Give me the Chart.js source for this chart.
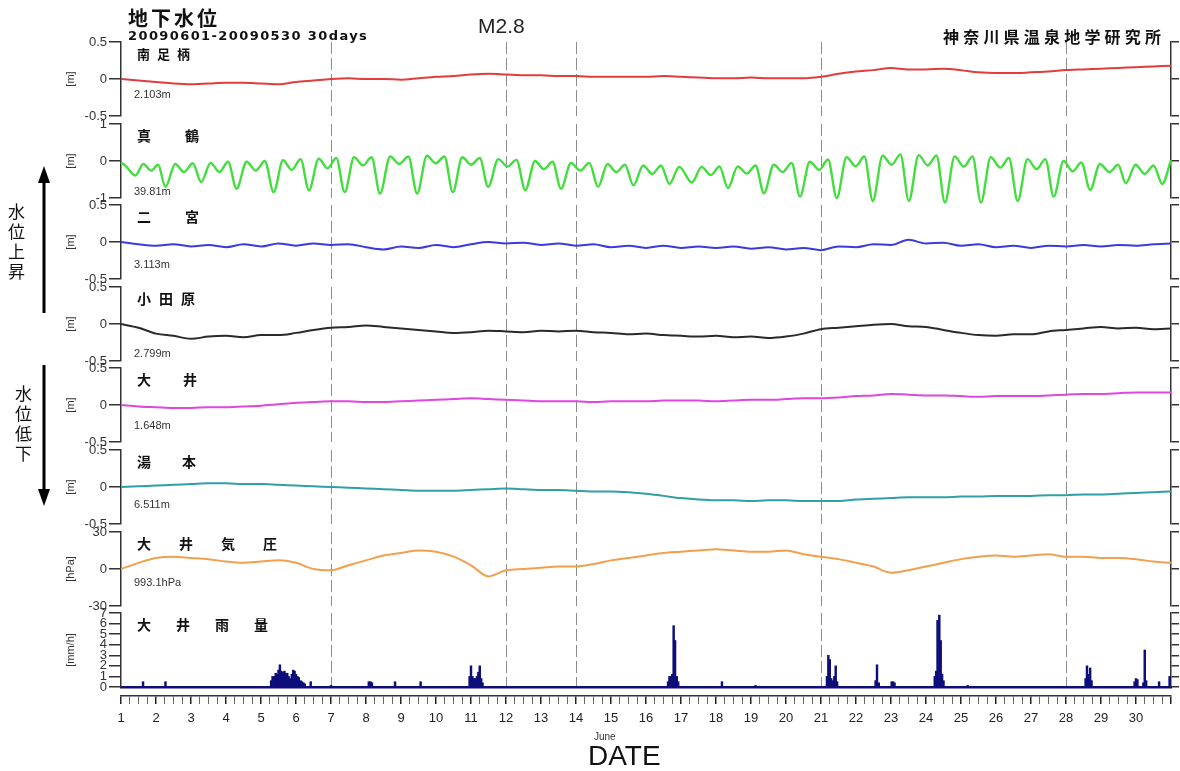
<!DOCTYPE html>
<html lang="ja">
<head>
<meta charset="utf-8">
<title>地下水位 20090601-20090530</title>
<script src="https://cdn.jsdelivr.net/npm/chart.js@4.4.1/dist/chart.umd.min.js"></script>
<style>
  html, body { margin: 0; padding: 0; background: #fff; }
  #wrap { position: relative; width: 1180px; height: 771px; overflow: hidden; font-family: 'Liberation Sans', Arial, sans-serif; }
  #wrap canvas { position: absolute; left: 0; }
  .txt { position: absolute; white-space: nowrap; line-height: 1; color: #111; z-index: 5; }
  .jp { font-family: 'Noto Sans CJK JP', sans-serif; font-weight: 700; }
  .base { font-size: 11px; color: #333; }
  .vert { writing-mode: vertical-rl; font-family: 'Noto Sans CJK JP', sans-serif; font-size: 17px; letter-spacing: 3px; }
  #arrows { position: absolute; left: 0; top: 0; z-index: 4; }
</style>
</head>
<body>
<div id="wrap">
  <div class="txt jp" style="left:128px; top:8px; font-size:20px; letter-spacing:3px;">地下水位</div>
  <div class="txt" style="left:128px; top:29px; font-size:13px; font-weight:700; font-family:'DejaVu Sans', sans-serif; letter-spacing:1.4px;">20090601-20090530 30days</div>
  <div class="txt" style="left:478px; top:15px; font-size:21px; color:#222;">M2.8</div>
  <div class="txt jp" style="left:943px; top:28px; font-size:16px; letter-spacing:4.2px;">神奈川県温泉地学研究所</div>
  <div class="txt vert" style="left:8px; top:203px;">水位上昇</div>
  <div class="txt vert" style="left:15px; top:385px;">水位低下</div>
  <div class="txt" style="left:594px; top:732px; font-size:10px; color:#333;">June</div>
  <div class="txt" style="left:588px; top:742px; font-size:28px; color:#111;">DATE</div>
  <svg id="arrows" width="60" height="771">
    <line x1="44" y1="313" x2="44" y2="180" stroke="#000" stroke-width="3"/>
    <polygon points="44,166 38,183 50,183" fill="#000"/>
    <line x1="44" y1="365" x2="44" y2="492" stroke="#000" stroke-width="3"/>
    <polygon points="44,506 38,489 50,489" fill="#000"/>
  </svg>
</div>
<script>
/* ── Data (June 2009) ── */

// days with the dashed reference lines
const EVENT_DAYS = [7, 12, 14, 21, 28];
// bottom axis labels
const DAY_LABELS = [1, 2, 3, 4, 5, 6, 7, 8, 9, 10, 11, 12, 13, 14, 15,
                    16, 17, 18, 19, 20, 21, 22, 23, 24, 25, 26, 27, 28, 29, 30];
// half-day sample times shared by the smooth series
const HALF_DAYS = Array.from({ length: 61 }, (_, i) => 1 + i * 0.5);

// 南足柄 [m] (base 2.103m)
const minamiashigara = [
  0.00, -0.02, -0.04, -0.06, -0.07, -0.06, -0.05, -0.05, -0.06, -0.07,
  -0.04, -0.02, 0.00, 0.01, 0.00, 0.00, -0.01, 0.01, 0.03, 0.04,
  0.06, 0.07, 0.06, 0.05, 0.05, 0.04, 0.04, 0.03, 0.03, 0.03,
  0.03, 0.04, 0.03, 0.02, 0.01, 0.01, 0.02, 0.01, 0.01, 0.01,
  0.03, 0.07, 0.10, 0.12, 0.15, 0.13, 0.13, 0.14, 0.12, 0.09,
  0.08, 0.08, 0.09, 0.10, 0.12, 0.13, 0.14, 0.15, 0.16, 0.17,
  0.18
];

// 真鶴 [m] (base 39.81m) — tidal, [day, value] at the turning points
const manazuru = [
  [1.00, -0.05], [1.12, -0.12],
  [1.41, -0.39], [1.64, -0.08], [1.86, -0.26], [2.06, -0.10],
  [2.27, -0.70], [2.55, -0.08], [2.80, -0.30], [3.05, -0.06],
  [3.29, -0.57], [3.56, -0.05], [3.81, -0.30], [4.06, -0.02],
  [4.30, -0.75], [4.59, -0.02], [4.85, -0.26], [5.11, 0.00],
  [5.36, -0.84], [5.63, 0.02], [5.88, -0.24], [6.13, 0.05],
  [6.37, -0.79], [6.65, 0.06], [6.90, -0.20], [7.15, 0.08],
  [7.39, -0.84], [7.66, 0.10], [7.91, -0.12], [8.16, 0.10],
  [8.40, -0.88], [8.69, 0.12], [8.95, -0.08], [9.21, 0.12],
  [9.46, -0.88], [9.74, 0.14], [9.99, -0.06], [10.24, 0.12],
  [10.48, -0.84], [10.75, 0.10], [11.00, -0.10], [11.25, 0.08],
  [11.49, -0.70], [11.78, 0.05], [12.04, -0.15], [12.30, 0.03],
  [12.55, -0.79], [12.83, 0.00], [13.08, -0.22], [13.33, -0.02],
  [13.57, -0.75], [13.86, -0.05], [14.12, -0.26], [14.38, -0.05],
  [14.63, -0.70], [14.90, -0.08], [15.15, -0.30], [15.40, -0.10],
  [15.64, -0.66], [15.92, -0.12], [16.18, -0.35], [16.43, -0.12],
  [16.67, -0.62], [16.95, -0.16],
  [17.31, -0.58], [17.59, -0.16], [17.85, -0.38], [18.10, -0.15],
  [18.34, -0.73], [18.62, -0.15], [18.88, -0.34], [19.13, -0.12],
  [19.37, -0.87], [19.65, -0.10], [19.91, -0.30], [20.16, -0.05],
  [20.40, -0.96], [20.68, -0.02], [20.95, -0.24], [21.20, 0.04],
  [21.45, -1.00], [21.73, 0.10], [21.99, -0.14], [22.24, 0.12],
  [22.48, -1.08], [22.76, 0.14], [23.02, -0.10], [23.27, 0.18],
  [23.51, -1.08], [23.79, 0.16], [24.05, -0.12], [24.30, 0.15],
  [24.54, -1.12], [24.82, 0.12], [25.08, -0.15], [25.33, 0.12],
  [25.57, -1.12], [25.85, 0.10], [26.12, -0.18], [26.37, 0.08],
  [26.62, -1.08], [26.90, 0.05], [27.16, -0.22], [27.41, 0.05],
  [27.65, -0.96], [27.93, 0.00], [28.19, -0.28], [28.44, -0.04],
  [28.69, -0.78], [28.97, -0.08], [29.24, -0.30], [29.49, -0.10],
  [29.71, -0.60], [29.99, -0.10], [30.25, -0.35], [30.50, -0.12],
  [30.75, -0.62], [31.00, 0.02]
];

// 二宮 [m] (base 3.113m)
const ninomiya = [
  0.00, -0.03, -0.05, -0.03, -0.06, -0.04, -0.07, -0.03, -0.06, -0.02,
  -0.05, -0.02, -0.04, -0.03, -0.07, -0.10, -0.06, -0.08, -0.04, -0.07,
  -0.03, 0.00, -0.02, -0.01, -0.04, -0.02, -0.05, -0.03, -0.07, -0.05,
  -0.08, -0.05, -0.08, -0.06, -0.08, -0.06, -0.09, -0.07, -0.10, -0.08,
  -0.11, -0.06, -0.07, -0.03, -0.04, 0.03, -0.02, -0.01, -0.05, -0.03,
  -0.07, -0.05, -0.08, -0.05, -0.06, -0.04, -0.06, -0.04, -0.05, -0.03,
  -0.02
];

// 小田原 [m] (base 2.799m)
const odawara = [
  0.00, -0.05, -0.13, -0.16, -0.20, -0.17, -0.16, -0.18, -0.15, -0.15,
  -0.12, -0.08, -0.05, -0.04, -0.02, -0.04, -0.06, -0.08, -0.10, -0.12,
  -0.11, -0.09, -0.10, -0.11, -0.09, -0.10, -0.09, -0.11, -0.12, -0.14,
  -0.13, -0.15, -0.16, -0.17, -0.16, -0.18, -0.17, -0.19, -0.17, -0.13,
  -0.07, -0.05, -0.03, -0.01, 0.00, -0.03, -0.04, -0.08, -0.12, -0.15,
  -0.16, -0.14, -0.14, -0.10, -0.08, -0.06, -0.04, -0.06, -0.05, -0.07,
  -0.06
];

// 大井 [m] (base 1.648m)
const oi = [
  0.00, -0.02, -0.03, -0.04, -0.04, -0.03, -0.03, -0.02, -0.01, 0.01,
  0.03, 0.04, 0.05, 0.05, 0.04, 0.04, 0.05, 0.06, 0.07, 0.08,
  0.09, 0.08, 0.07, 0.06, 0.05, 0.05, 0.05, 0.04, 0.05, 0.05,
  0.05, 0.06, 0.06, 0.06, 0.05, 0.06, 0.07, 0.07, 0.08, 0.09,
  0.09, 0.10, 0.12, 0.13, 0.15, 0.14, 0.13, 0.13, 0.12, 0.11,
  0.12, 0.12, 0.12, 0.13, 0.14, 0.15, 0.15, 0.16, 0.17, 0.17,
  0.17
];

// 湯本 [m] (base 6.511m)
const yumoto = [
  0.00, 0.01, 0.02, 0.03, 0.04, 0.05, 0.05, 0.04, 0.04, 0.03,
  0.02, 0.01, 0.00, -0.01, -0.02, -0.03, -0.04, -0.05, -0.05, -0.05,
  -0.04, -0.03, -0.02, -0.03, -0.04, -0.04, -0.05, -0.06, -0.06, -0.07,
  -0.09, -0.12, -0.15, -0.17, -0.18, -0.18, -0.19, -0.18, -0.18, -0.19,
  -0.19, -0.19, -0.17, -0.16, -0.15, -0.14, -0.14, -0.14, -0.13, -0.13,
  -0.12, -0.12, -0.12, -0.11, -0.11, -0.10, -0.10, -0.09, -0.08, -0.07,
  -0.06
];

// 大井気圧 [hPa] (base 993.1hPa)
const oiPressure = [
  0, 5, 9, 10, 9, 8, 6, 5, 6, 7,
  5, 0, -1, 3, 7, 11, 13, 15, 14, 10,
  3, -6, -1, 0, 1, 2, 2, 4, 7, 9,
  11, 13, 14, 15, 16, 15, 14, 14, 15, 12,
  10, 8, 5, 2, -3, -1, 2, 5, 8, 10,
  11, 10, 11, 12, 10, 10, 9, 9, 8, 6,
  5
];

// 大井雨量 [mm/h] — hourly, only the hours with rain
const oiRain = [
  [1.63, 0.5], [2.27, 0.5],
  [5.29, 0.6], [5.33, 1.0], [5.38, 1.0], [5.42, 1.3], [5.46, 1.2], [5.50, 1.6], [5.54, 2.1],
  [5.58, 1.5], [5.63, 1.4], [5.67, 1.5], [5.71, 1.3], [5.75, 1.3], [5.79, 1.0], [5.83, 0.8],
  [5.88, 1.2], [5.92, 1.6], [5.96, 1.5], [6.00, 1.2], [6.04, 1.0], [6.08, 0.9], [6.13, 0.6],
  [6.17, 0.5], [6.21, 0.4], [6.25, 0.3], [6.42, 0.5],
  [7.00, 0.15],
  [8.08, 0.5], [8.13, 0.5], [8.17, 0.4],
  [8.83, 0.5], [9.56, 0.5],
  [10.96, 1.0], [11.00, 2.0], [11.04, 1.0], [11.08, 0.8], [11.13, 0.8], [11.17, 1.0],
  [11.21, 1.4], [11.25, 2.0], [11.29, 0.8], [11.33, 0.4],
  [16.63, 0.5], [16.67, 1.0], [16.71, 1.0], [16.75, 1.2], [16.79, 5.8], [16.83, 4.4],
  [16.88, 1.0], [16.92, 0.5],
  [18.17, 0.5], [19.13, 0.15],
  [21.17, 1.0], [21.21, 3.0], [21.25, 2.6], [21.29, 0.8], [21.33, 0.6], [21.38, 1.0],
  [21.42, 2.0], [21.46, 0.5],
  [22.56, 0.6], [22.60, 2.1], [22.65, 0.4],
  [23.02, 0.5], [23.06, 0.5], [23.10, 0.4],
  [24.25, 1.0], [24.29, 1.5], [24.33, 6.3], [24.38, 6.8], [24.42, 4.4], [24.46, 1.2], [24.50, 0.6],
  [25.19, 0.15],
  [28.56, 0.8], [28.60, 2.0], [28.65, 1.2], [28.69, 1.8], [28.73, 0.6],
  [29.96, 0.5], [30.00, 0.8], [30.04, 0.7], [30.21, 0.4], [30.25, 3.5], [30.29, 0.6],
  [30.66, 0.5], [30.96, 1.0]
];

/* ── Layout ── */
const PANEL_TOP = 42, PANEL_STEP = 81.6, PANEL_H = 74, PAD = 12;
const AXIS_LEFT = 60, AXIS_W = 61, RIGHT_W = 9;
const TICK_FONT = { family: "'Liberation Sans', Arial, sans-serif", size: 13 };
const INK = '#333';

const halfDaySeries = vals => vals.map((v, i) => ({ x: HALF_DAYS[i], y: v }));
const pairSeries = pairs => pairs.map(([x, y]) => ({ x, y }));

const PANELS = [
  { name: '南足柄', size: 13, gap: 7, unit: '[m]', min: -0.5, max: 0.5, ticks: [-0.5, 0, 0.5],
    color: '#e23c3c', data: halfDaySeries(minamiashigara), base: '2.103m', baseY: 53 },
  { name: '真鶴', size: 14, gap: 34, unit: '[m]', min: -1, max: 1, ticks: [-1, 0, 1],
    color: '#42de3e', data: pairSeries(manazuru), base: '39.81m', baseY: 68, clip: 8, width: 2.4 },
  { name: '二宮', size: 14, gap: 34, unit: '[m]', min: -0.5, max: 0.5, ticks: [-0.5, 0, 0.5],
    color: '#3a3ade', data: halfDaySeries(ninomiya), base: '3.113m', baseY: 60 },
  { name: '小田原', size: 14, gap: 8, unit: '[m]', min: -0.5, max: 0.5, ticks: [-0.5, 0, 0.5],
    color: '#2a2a2a', data: halfDaySeries(odawara), base: '2.799m', baseY: 67 },
  { name: '大井', size: 14, gap: 32, unit: '[m]', min: -0.5, max: 0.5, ticks: [-0.5, 0, 0.5],
    color: '#e046e0', data: halfDaySeries(oi), base: '1.648m', baseY: 58 },
  { name: '湯本', size: 14, gap: 31, unit: '[m]', min: -0.5, max: 0.5, ticks: [-0.5, 0, 0.5],
    color: '#2fa0a6', data: halfDaySeries(yumoto), base: '6.511m', baseY: 55 },
  { name: '大井気圧', size: 14, gap: 28, unit: '[hPa]', min: -30, max: 30, ticks: [-30, 0, 30],
    color: '#f2a04e', data: halfDaySeries(oiPressure), base: '993.1hPa', baseY: 51 },
  { name: '大井雨量', size: 14, gap: 25, unit: '[mm/h]', min: 0, max: 7, ticks: [0, 1, 2, 3, 4, 5, 6, 7],
    color: '#0e0e7a', data: pairSeries(oiRain), rain: true }
];

const wrap = document.getElementById('wrap');

function addText(text, cls, style) {
  const d = document.createElement('div');
  d.className = 'txt ' + cls;
  d.textContent = text;
  Object.assign(d.style, style);
  wrap.appendChild(d);
}

function addCanvas(top, height) {
  const c = document.createElement('canvas');
  c.width = 1180;
  c.height = height;
  c.style.top = top + 'px';
  wrap.appendChild(c);
  return c;
}

/* ── One stacked panel ── */
function renderPanel(p, i) {
  const top = PANEL_TOP + i * PANEL_STEP;
  const canvas = addCanvas(top - PAD, PANEL_H + PAD * 2);
  const setTicks = s => { s.ticks = p.ticks.map(v => ({ value: v })); };

  const dataset = p.rain
    ? { type: 'bar', data: p.data, backgroundColor: p.color, barThickness: 1.8, grouped: false }
    : { type: 'line', data: p.data, borderColor: p.color, borderWidth: p.width || 2, pointRadius: 0,
        cubicInterpolationMode: 'monotone', clip: p.clip || 2 };

  new Chart(canvas, {
    type: p.rain ? 'bar' : 'line',
    data: { datasets: [dataset] },
    options: {
      responsive: false,
      animation: false,
      events: [],
      layout: { padding: { left: AXIS_LEFT, right: 0, top: PAD, bottom: PAD } },
      plugins: { legend: { display: false }, tooltip: { enabled: false } },
      scales: {
        x: {
          type: 'linear', min: 1, max: 31, offset: false,
          afterBuildTicks: s => { s.ticks = EVENT_DAYS.map(v => ({ value: v })); },
          afterFit: s => { s.height = 0; },
          ticks: { display: false },
          grid: { drawTicks: false, color: '#8c8c8c', lineWidth: 1, offset: false },
          border: p.rain
            ? { display: true, color: p.color, width: 2.5, dash: [12, 4] }
            : { display: false, dash: [12, 4] }
        },
        y: {
          position: 'left', min: p.min, max: p.max,
          afterBuildTicks: setTicks,
          afterFit: s => { s.width = AXIS_W; },
          ticks: { autoSkip: false, font: TICK_FONT, color: INK, padding: 2, callback: v => String(v) },
          grid: { drawOnChartArea: false, tickLength: 12, color: INK, lineWidth: 1.5 },
          border: { color: INK, width: 1.5 },
          title: { display: true, text: p.unit, color: INK,
                   font: { family: TICK_FONT.family, size: 11 }, padding: { top: 4, bottom: 0 } }
        },
        y2: {
          position: 'right', min: p.min, max: p.max,
          afterBuildTicks: setTicks,
          afterFit: s => { s.width = RIGHT_W; },
          ticks: { display: false },
          grid: { drawOnChartArea: false, tickLength: 8, color: INK, lineWidth: 1.5 },
          border: { color: INK, width: 1.5 }
        }
      }
    }
  });

  // station name and base value
  addText(p.name, 'jp', { left: '137px', top: (top + 11 - p.size / 2) + 'px',
                           fontSize: p.size + 'px', letterSpacing: p.gap + 'px' });
  if (p.base) addText(p.base, 'base', { left: '134px', top: (top + p.baseY - 6) + 'px' });
}

/* ── Shared date axis under the rain panel ── */
function renderDateAxis() {
  const canvas = addCanvas(680, 91);
  const ticks = [];
  for (let v = 1; v <= 31; v += 0.25) ticks.push({ value: v });
  const isMajor = ctx => ctx.tick && Number.isInteger(ctx.tick.value);

  new Chart(canvas, {
    type: 'line',
    data: { datasets: [] },
    options: {
      responsive: false,
      animation: false,
      events: [],
      layout: { padding: { left: 121, right: RIGHT_W, top: 6, bottom: 0 } },
      plugins: { legend: { display: false }, tooltip: { enabled: false } },
      scales: {
        x: {
          type: 'linear', min: 1, max: 31,
          afterBuildTicks: s => { s.ticks = ticks; },
          afterFit: s => { s.height = 75; },
          ticks: {
            autoSkip: false, maxRotation: 0, padding: 7, font: TICK_FONT, color: '#222',
            callback: v => DAY_LABELS.includes(v) ? String(v) : ''
          },
          grid: {
            drawOnChartArea: false, tickLength: 8,
            color: ctx => isMajor(ctx) ? '#222' : '#666',
            lineWidth: ctx => isMajor(ctx) ? 1.5 : 1
          },
          border: { color: INK, width: 1.5 }
        },
        y: { display: false }
      }
    }
  });
}

PANELS.forEach(renderPanel);
renderDateAxis();
</script>
</body>
</html>
